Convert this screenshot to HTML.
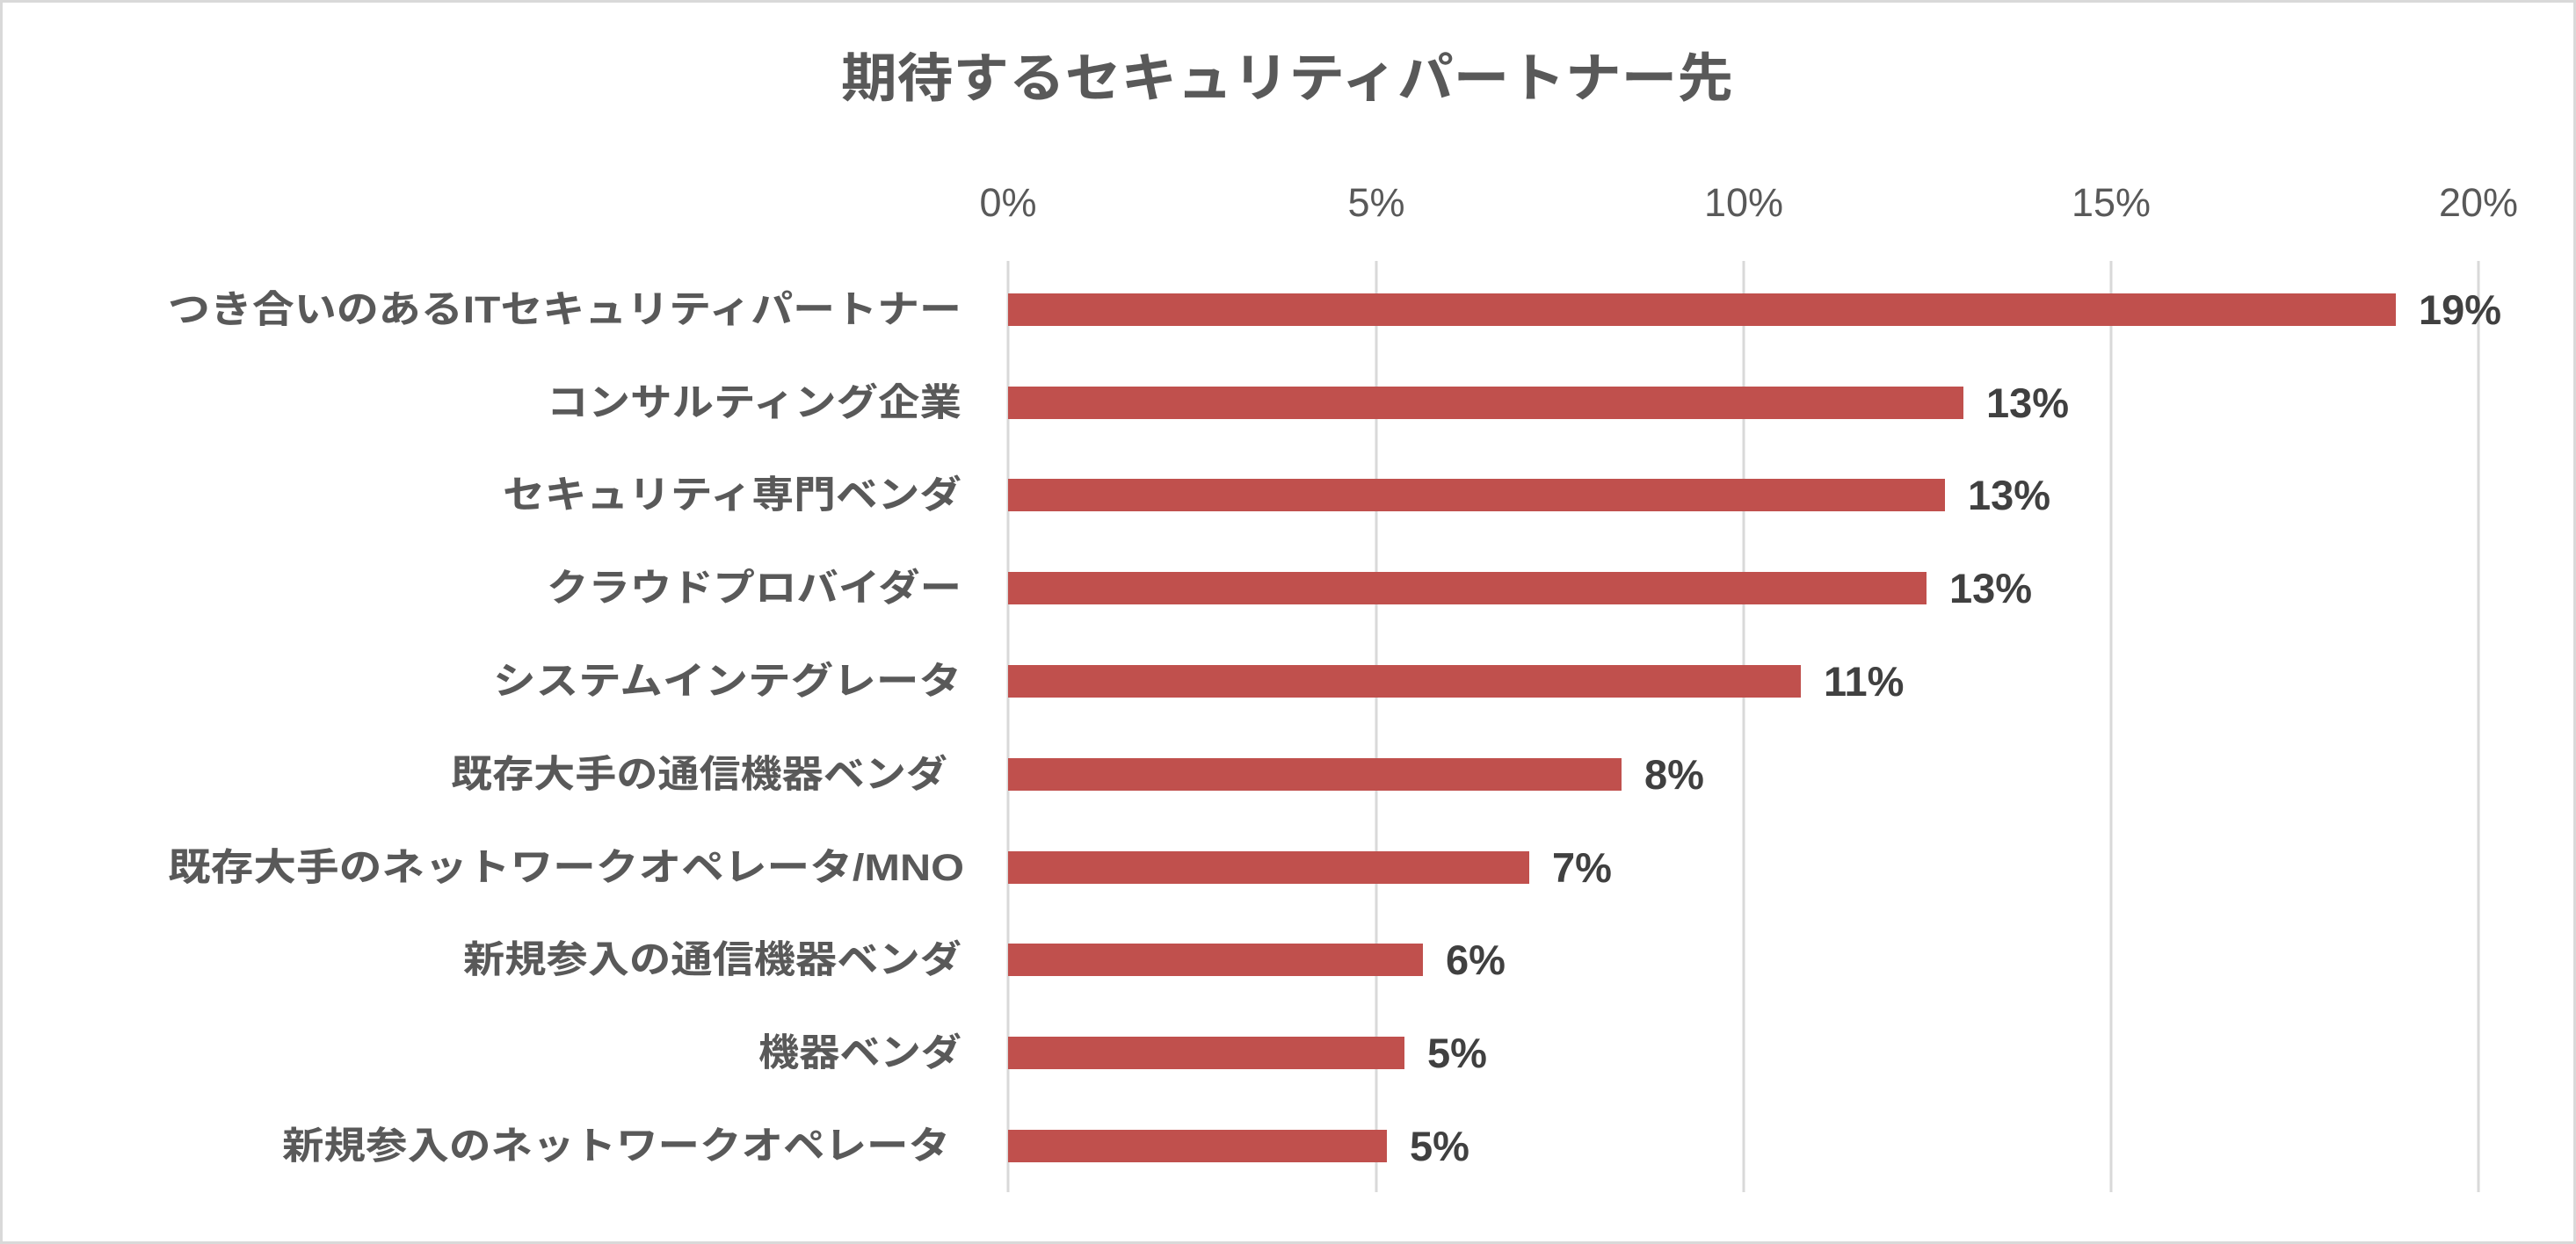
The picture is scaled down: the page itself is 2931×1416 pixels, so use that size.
<!DOCTYPE html>
<html><head><meta charset="utf-8"><style>
html,body{margin:0;padding:0;background:#fff}
svg{display:block}
.lab{font-family:"Liberation Sans","Noto Sans CJK JP",sans-serif;font-weight:bold;font-size:43px;fill:#595959}
.tick{font-family:"Liberation Sans",sans-serif;font-size:45px;fill:#595959}
.val{font-family:"Liberation Sans",sans-serif;font-weight:bold;font-size:47px;fill:#404040}
.title{font-family:"Liberation Sans","Noto Sans CJK JP",sans-serif;font-weight:bold;font-size:60px;fill:#595959}
</style></head><body>
<svg width="2931" height="1416" viewBox="0 0 2931 1416" xmlns="http://www.w3.org/2000/svg">
<rect x="1.5" y="1.5" width="2928" height="1413" fill="#fff" stroke="#d9d9d9" stroke-width="3"/>
<text class="title" x="957" y="110" textLength="1015" lengthAdjust="spacingAndGlyphs">期待するセキュリティパートナー先</text>
<g stroke="#d9d9d9" stroke-width="3">
<line x1="1147" y1="297" x2="1147" y2="1357"/>
<line x1="1566" y1="297" x2="1566" y2="1357"/>
<line x1="1984" y1="297" x2="1984" y2="1357"/>
<line x1="2402" y1="297" x2="2402" y2="1357"/>
<line x1="2820" y1="297" x2="2820" y2="1357"/>
</g>
<g class="tick" text-anchor="middle">
<text x="1147" y="246">0%</text><text x="1566" y="246">5%</text><text x="1984" y="246">10%</text><text x="2402" y="246">15%</text><text x="2820" y="246">20%</text>
</g>
<g fill="#c0504d">
<rect x="1147" y="334" width="1579" height="37"/>
<rect x="1147" y="440" width="1087" height="37"/>
<rect x="1147" y="545" width="1066" height="37"/>
<rect x="1147" y="651" width="1045" height="37"/>
<rect x="1147" y="757" width="902" height="37"/>
<rect x="1147" y="863" width="698" height="37"/>
<rect x="1147" y="969" width="593" height="37"/>
<rect x="1147" y="1074" width="472" height="37"/>
<rect x="1147" y="1180" width="451" height="37"/>
<rect x="1147" y="1286" width="431" height="37"/>
</g>
<g class="val">
<text x="2752" y="369">19%</text>
<text x="2260" y="475">13%</text>
<text x="2239" y="580">13%</text>
<text x="2218" y="686">13%</text>
<text x="2075" y="792">11%</text>
<text x="1871" y="898">8%</text>
<text x="1766" y="1004">7%</text>
<text x="1645" y="1109">6%</text>
<text x="1624" y="1215">5%</text>
<text x="1604" y="1321">5%</text>
</g>
<g class="lab">
<text x="191" y="367" textLength="903" lengthAdjust="spacingAndGlyphs">つき合いのあるITセキュリティパートナー</text>
<text x="622" y="473" textLength="472" lengthAdjust="spacingAndGlyphs">コンサルティング企業</text>
<text x="572" y="578" textLength="522" lengthAdjust="spacingAndGlyphs">セキュリティ専門ベンダ</text>
<text x="622" y="684" textLength="472" lengthAdjust="spacingAndGlyphs">クラウドプロバイダー</text>
<text x="561" y="790" textLength="533" lengthAdjust="spacingAndGlyphs">システムインテグレータ</text>
<text x="513" y="896" textLength="565" lengthAdjust="spacingAndGlyphs">既存大手の通信機器ベンダ</text>
<text x="191" y="1002" textLength="906" lengthAdjust="spacingAndGlyphs">既存大手のネットワークオペレータ/MNO</text>
<text x="527" y="1107" textLength="567" lengthAdjust="spacingAndGlyphs">新規参入の通信機器ベンダ</text>
<text x="863" y="1213" textLength="231" lengthAdjust="spacingAndGlyphs">機器ベンダ</text>
<text x="321" y="1319" textLength="760" lengthAdjust="spacingAndGlyphs">新規参入のネットワークオペレータ</text>
</g>
</svg>
</body></html>
